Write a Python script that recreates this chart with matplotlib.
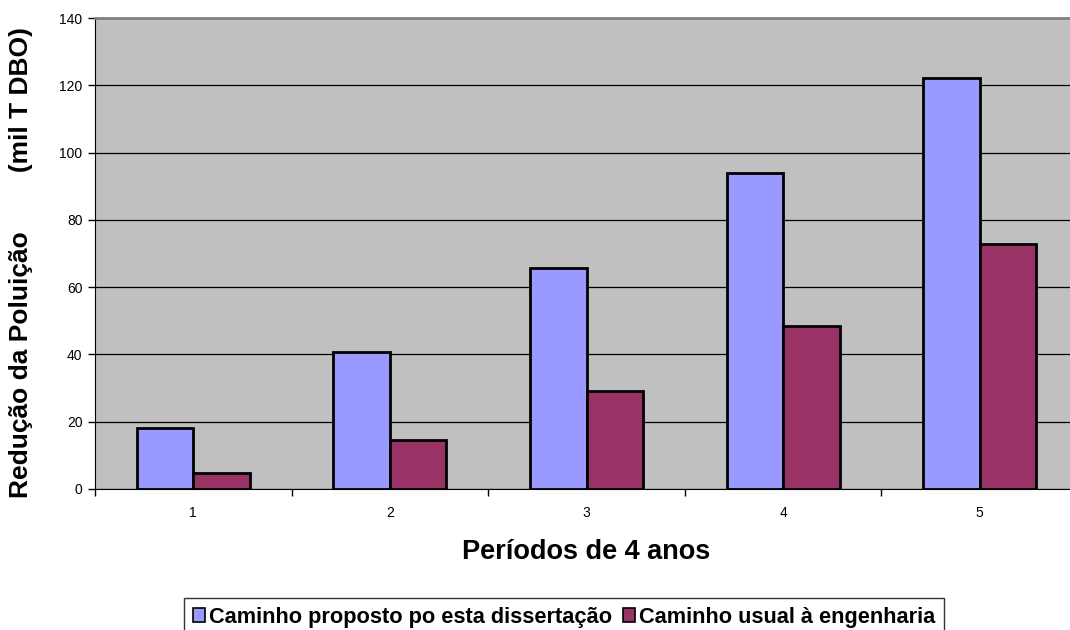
import matplotlib.pyplot as plt
import numpy as np

plt.rcParams['font.family'] = ['Liberation Sans', 'DejaVu Sans']

# Redução da poluição por período (mil T DBO)
periods = ['1', '2', '3', '4', '5']
proposto = [18.2, 40.7, 65.8, 93.8, 122.3]
usual = [4.8, 14.6, 29.0, 48.4, 72.7]
series_names = ['Caminho proposto po esta dissertação', 'Caminho usual à engenharia']

W, H = 1070, 630
fig = plt.figure(figsize=(W / 100, H / 100), dpi=100)
# the plot area runs a little past the right edge of the image
ax = fig.add_axes([95 / W, 1 - 489 / H, 983 / W, 471 / H])
ax.set_facecolor('#C0C0C0')

x = np.arange(1, len(periods) + 1)
w = 0.287
ax.bar(x - w / 2, proposto, w, color='#9999FF', edgecolor='black', linewidth=2,
       label=series_names[0], zorder=3)
ax.bar(x + w / 2, usual, w, color='#993366', edgecolor='black', linewidth=2,
       label=series_names[1], zorder=3)

ax.set_xlim(0.5, len(periods) + 0.5)
ax.set_ylim(0, 140)
ax.set_yticks(range(0, 141, 20))
ax.yaxis.grid(True, color='black', linewidth=0.9, zorder=1)

# labels centred, tick marks between the categories
ax.set_xticks(x)
ax.set_xticklabels(periods)
ax.set_xticks(np.arange(0.5, len(periods) + 1, 1), minor=True)
ax.tick_params(axis='x', which='major', length=0, pad=12, labelsize=10)
ax.tick_params(axis='x', which='minor', length=5, width=1, direction='out')
ax.tick_params(axis='y', length=5, width=1, direction='out', labelsize=10, pad=4)

for side in ['top', 'right']:
    ax.spines[side].set_color('#808080')
    ax.spines[side].set_linewidth(2)
ax.spines['left'].set_color('black')
ax.spines['bottom'].set_color('black')

ax.set_xlabel('Períodos de 4 anos', fontsize=19.5, fontweight='bold', labelpad=14)
fig.text(21 / W, 1 - 262 / H, 'Redução da Poluição        (mil T DBO)',
         rotation=90, ha='center', va='center', fontsize=19, fontweight='bold')

leg = fig.legend(loc='upper left', bbox_to_anchor=(184 / W, 1 - 598 / H),
                 ncol=2, prop={'weight': 'bold', 'size': 15.7},
                 frameon=True, fancybox=False, edgecolor='black',
                 handlelength=0.58, handleheight=0.58, handletextpad=0.15,
                 columnspacing=0.5, borderpad=0.4, borderaxespad=0)
leg.get_frame().set_linewidth(1)
for h in leg.legend_handles:
    h.set_linewidth(1.2)

fig.savefig('out.png', dpi=100, facecolor='white')
